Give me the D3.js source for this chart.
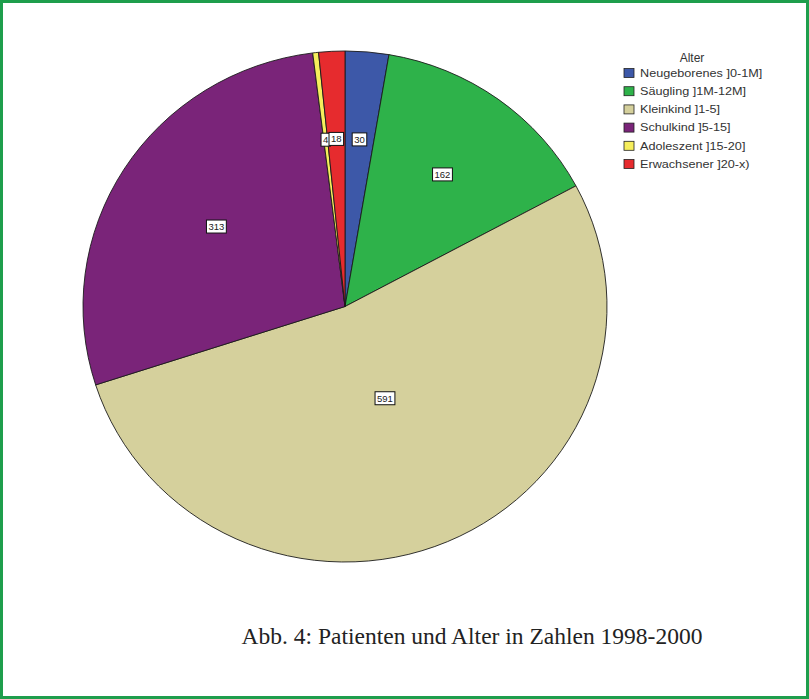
<!DOCTYPE html>
<html>
<head>
<meta charset="utf-8">
<script src="https://cdn.jsdelivr.net/npm/d3@7"></script>
<style>
  html, body { margin: 0; padding: 0; background: #fff; }
  svg { display: block; }
</style>
</head>
<body>
<svg id="chart" width="809" height="699"></svg>
<script>
const categories = ["Neugeborenes ]0-1M]", "Säugling ]1M-12M]", "Kleinkind ]1-5]", "Schulkind ]5-15]", "Adoleszent ]15-20]", "Erwachsener ]20-x)"];
const values = [30, 162, 591, 313, 4, 18];
const colors = ["#3d58a8", "#2eb24a", "#d5d09c", "#7a2479", "#f6ee5c", "#e62b2e"];
const legendTitle = "Alter";
const caption = "Abb. 4: Patienten und Alter in Zahlen 1998-2000";

const svg = d3.select("#chart");
const W = 809, H = 699;

// green frame
svg.append("rect").attr("x", 1.5).attr("y", 1.5).attr("width", W - 3).attr("height", H - 3)
  .attr("fill", "#fff").attr("stroke", "#1e9e4c").attr("stroke-width", 3);

const cx = 345, cy = 306.5, R = 262, yScale = 511 / 524;
const data = categories.map((c, i) => ({ name: c, value: values[i], color: colors[i] }));
const total = d3.sum(values);

const pie = d3.pie().value(d => d.value).sort(null);
const arcs = pie(data);
const arc = d3.arc().innerRadius(0).outerRadius(R);

const g = svg.append("g").attr("transform", `translate(${cx},${cy}) scale(1,${yScale})`);
g.selectAll("path.slice").data(arcs).join("path")
  .attr("class", "slice")
  .attr("d", arc)
  .attr("fill", d => d.data.color)
  .attr("stroke", "#1a1a1a")
  .attr("stroke-width", 0.9);

// value labels
const lg = svg.append("g").attr("transform", `translate(${cx},${cy})`);
arcs.forEach(d => {
  const f = d.value / total;
  const r = R * (0.657 - 0.955 * f * f);
  const a = (d.startAngle + d.endAngle) / 2;
  const x = Math.sin(a) * r;
  const y = -Math.cos(a) * r * yScale;
  const t = lg.append("text")
    .attr("x", x).attr("y", y)
    .attr("text-anchor", "middle").attr("dominant-baseline", "central")
    .attr("font-family", "Arial, 'Liberation Sans', sans-serif")
    .attr("font-size", 9.5).attr("fill", "#222")
    .text(d.value);
  const bb = t.node().getBBox();
  lg.insert("rect", () => t.node())
    .attr("x", bb.x - 2).attr("y", bb.y - 1)
    .attr("width", bb.width + 4).attr("height", bb.height + 2)
    .attr("fill", "#fff").attr("stroke", "#111").attr("stroke-width", 1);
});

// legend
const leg = svg.append("g").attr("transform", "translate(624,0)");
leg.append("text").attr("x", 68).attr("y", 62).attr("text-anchor", "middle")
  .attr("font-family", "Arial, 'Liberation Sans', sans-serif").attr("font-size", 12).attr("fill", "#333")
  .text(legendTitle);
const rowY = d3.scalePoint().domain(categories).range([73, 164]);
const rows = leg.selectAll("g.row").data(data).join("g").attr("class", "row")
  .attr("transform", d => `translate(0,${rowY(d.name)})`);
rows.append("rect").attr("x", 0).attr("y", -4.5).attr("width", 10).attr("height", 9)
  .attr("fill", d => d.color).attr("stroke", "#222").attr("stroke-width", 0.8);
rows.append("text").attr("transform", "translate(16,0) scale(1.15,1)").attr("dominant-baseline", "central")
  .attr("font-family", "Arial, 'Liberation Sans', sans-serif").attr("font-size", 11).attr("fill", "#333")
  .text(d => d.name);

// caption
svg.append("text").attr("x", 472).attr("y", 644).attr("text-anchor", "middle")
  .attr("font-family", "'Liberation Serif', 'Times New Roman', serif").attr("font-size", 23.5).attr("fill", "#222")
  .text(caption);
</script>
</body>
</html>
